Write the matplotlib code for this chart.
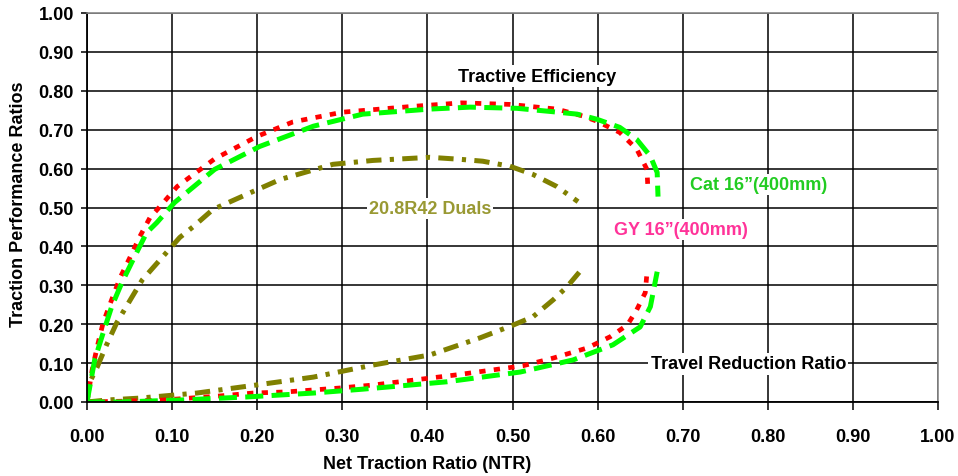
import matplotlib
matplotlib.use("Agg")
import matplotlib.pyplot as plt

plt.rcParams['font.family'] = ['Liberation Sans', 'DejaVu Sans']
plt.rcParams['font.weight'] = 'bold'
plt.rcParams['lines.scale_dashes'] = False

# Tractive efficiency curves
ntr_te_gy = [0, 0.006, 0.012, 0.019, 0.029, 0.039, 0.051, 0.062, 0.074, 0.088, 0.106, 0.15, 0.2, 0.242,
             0.30, 0.383, 0.44, 0.497, 0.552, 0.583, 0.599, 0.626, 0.646, 0.658, 0.659]
te_gy = [0, 0.082, 0.142, 0.204, 0.263, 0.32, 0.374, 0.425, 0.474, 0.508, 0.554, 0.625, 0.683, 0.72,
         0.745, 0.76, 0.769, 0.765, 0.753, 0.735, 0.722, 0.693, 0.65, 0.598, 0.554]

ntr_te_cat = [0, 0.009, 0.019, 0.029, 0.041, 0.056, 0.07, 0.082, 0.103, 0.15, 0.203, 0.266, 0.324,
              0.403, 0.45, 0.505, 0.544, 0.576, 0.599, 0.626, 0.646, 0.662, 0.67, 0.671]
te_cat = [0, 0.108, 0.178, 0.245, 0.307, 0.374, 0.435, 0.461, 0.513, 0.598, 0.657, 0.709, 0.74,
          0.753, 0.758, 0.755, 0.747, 0.74, 0.727, 0.706, 0.675, 0.632, 0.59, 0.528]

ntr_te_duals = [0, 0.003, 0.012, 0.023, 0.035, 0.051, 0.065, 0.086, 0.109, 0.125, 0.148, 0.195, 0.227,
                0.289, 0.336, 0.403, 0.438, 0.465, 0.497, 0.524, 0.552, 0.577]
te_duals = [0, 0.05, 0.09, 0.147, 0.204, 0.263, 0.314, 0.366, 0.423, 0.451, 0.495, 0.541, 0.572,
            0.611, 0.621, 0.629, 0.624, 0.619, 0.606, 0.585, 0.554, 0.515]

# Travel reduction curves
ntr_tr_gy = [0, 0.04, 0.089, 0.153, 0.195, 0.235, 0.297, 0.338, 0.356, 0.435, 0.512, 0.548, 0.588,
             0.615, 0.635, 0.646, 0.656, 0.658]
tr_gy = [0, 0.002, 0.005, 0.015, 0.023, 0.026, 0.036, 0.044, 0.049, 0.07, 0.093, 0.113, 0.139,
         0.168, 0.198, 0.237, 0.281, 0.332]

ntr_tr_cat = [0, 0.039, 0.109, 0.188, 0.266, 0.324, 0.356, 0.423, 0.509, 0.571, 0.618, 0.65, 0.662, 0.67]
tr_cat = [0, 0.0, 0.005, 0.013, 0.023, 0.033, 0.039, 0.052, 0.077, 0.108, 0.147, 0.193, 0.245, 0.335]

ntr_tr_duals = [0, 0.023, 0.062, 0.129, 0.2, 0.266, 0.336, 0.403, 0.462, 0.501, 0.524, 0.548, 0.564, 0.579]
tr_duals = [0, 0.005, 0.01, 0.023, 0.044, 0.064, 0.095, 0.121, 0.165, 0.198, 0.219, 0.263, 0.296, 0.335]

ticks = [0.0, 0.1, 0.2, 0.3, 0.4, 0.5, 0.6, 0.7, 0.8, 0.9, 1.0]
tick_labels = ["0.00", "0.10", "0.20", "0.30", "0.40", "0.50", "0.60", "0.70", "0.80", "0.90", "1.00"]

fig = plt.figure(figsize=(9.58, 4.77), dpi=100)
ax = fig.add_axes([87 / 958, 1 - 403 / 477, (938 - 87) / 958, (403 - 14) / 477])

ax.set_xlim(0, 1)
ax.set_ylim(0, 1)
ax.set_xticks(ticks)
ax.set_yticks(ticks)
ax.set_xticklabels(tick_labels, fontsize=13, fontweight='bold')
ax.set_yticklabels(tick_labels, fontsize=13, fontweight='bold')
ax.tick_params(axis='x', direction='out', length=6, width=1.1, pad=13)
ax.tick_params(axis='y', direction='out', length=4.5, width=1.1, pad=5)
ax.grid(True, color='black', linewidth=1.1)
ax.set_axisbelow(True)
for s in ['top', 'right']:
    ax.spines[s].set_color('#888888')
    ax.spines[s].set_linewidth(1.2)
for s in ['left', 'bottom']:
    ax.spines[s].set_color('black')
    ax.spines[s].set_linewidth(1.3)

red_style = dict(color='#ff0000', linewidth=3.4, dashes=(4.5, 6), solid_capstyle='butt')
green_style = dict(color='#00ff00', linewidth=3.6, dashes=(13, 6))
olive_style = dict(color='#808000', linewidth=3.6, dashes=(11, 6, 3, 6))

ax.plot(ntr_te_duals, te_duals, **olive_style)
ax.plot(ntr_tr_duals, tr_duals, **olive_style)
ax.plot(ntr_te_gy, te_gy, **red_style)
ax.plot(ntr_tr_gy, tr_gy, **red_style)
ax.plot(ntr_te_cat, te_cat, **green_style)
ax.plot(ntr_tr_cat, tr_cat, **green_style)

box = dict(facecolor='white', edgecolor='none', pad=1.5)
ax.text(0.529, 0.838, "Tractive Efficiency", fontsize=13, fontweight='bold', color='black',
        ha='center', va='center', bbox=box)
ax.text(0.789, 0.559, "Cat 16\u201d(400mm)", fontsize=13, fontweight='bold', color='#22cc22',
        ha='center', va='center', bbox=box)
ax.text(0.698, 0.443, "GY 16\u201d(400mm)", fontsize=13, fontweight='bold', color='#ff3399',
        ha='center', va='center', bbox=box)
ax.text(0.403, 0.497, "20.8R42 Duals", fontsize=13, fontweight='bold', color='#999933',
        ha='center', va='center', bbox=box)
ax.text(0.777, 0.098, "Travel Reduction Ratio", fontsize=13, fontweight='bold', color='black',
        ha='center', va='center', bbox=box)

ax.set_xlabel("Net Traction Ratio (NTR)", fontsize=13, fontweight='bold', labelpad=5)
ax.xaxis.set_label_coords(0.40, -0.135)
ax.set_ylabel("Traction Performance Ratios", fontsize=13, fontweight='bold', labelpad=6)
ax.yaxis.set_label_coords(-0.07, 0.51)

fig.savefig("out.png", dpi=100)
